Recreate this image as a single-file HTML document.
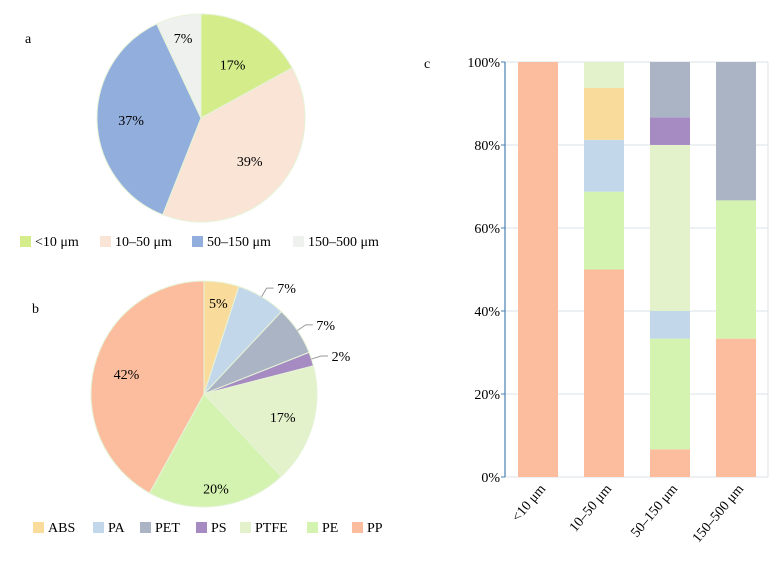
<!DOCTYPE html>
<html><head><meta charset="utf-8"><style>
body{margin:0;background:#fff;}
svg, svg text{font-family:"Liberation Serif","DejaVu Serif","Times New Roman",serif !important;}
</style></head><body>
<svg id="fig" width="782" height="558" viewBox="0 0 782 558" xmlns="http://www.w3.org/2000/svg" font-family="Liberation Serif, DejaVu Serif, serif">
<text x="25" y="43" font-size="14">a</text>
<text x="32" y="313" font-size="14">b</text>
<text x="424" y="68" font-size="14">c</text>
<g id="pieA"></g>
<g id="pieB"></g>
<g id="barC"></g>
<g id="legA"></g>
<g id="legB"></g>
</svg>
<script>
const sizeCats = ["<10 μm","10–50 μm","50–150 μm","150–500 μm"];
const sizeValues = [17,39,37,7];
const sizeColors = ["#d4ec8a","#f9e4d6","#92aedc","#eff1ee"];
const polyCats = ["ABS","PA","PET","PS","PTFE","PE","PP"];
const polyValues = [5,7,7,2,17,20,42];
const polyColors = ["#f9dc9c","#c3d7ea","#aab4c4","#a58bc2","#e3f2cb","#d4f2b0","#fbbd9e"];
// stacked bar: share per polymer (bottom-up order) per size class
const stackOrder = ["PP","PE","PA","ABS","PTFE","PS","PET"];
const sPP   = [100,50,6.67,33.33];
const sPE   = [0,18.75,26.67,33.33];
const sPA   = [0,12.5,6.67,0];
const sABS  = [0,12.5,0,0];
const sPTFE = [0,6.25,40,0];
const sPS   = [0,0,6.67,0];
const sPET  = [0,0,13.33,33.34];
const yTicks = ["0%","20%","40%","60%","80%","100%"];

const NS="http://www.w3.org/2000/svg";
const FF="Liberation Serif, DejaVu Serif, serif";
function mk(tag,attrs,parent){const e=document.createElementNS(NS,tag);for(const k in attrs)e.setAttribute(k,attrs[k]);if(tag==="text")e.setAttribute("font-family",FF);parent.appendChild(e);return e;}

function pie(g,vals,cols,cx,cy,r,names,labelFn){
  const tot=vals.reduce((a,b)=>a+b,0);let a0=0;
  vals.forEach((v,i)=>{
    const a1=a0+v/tot*2*Math.PI;
    const p=(a)=>[cx+r*Math.sin(a),cy-r*Math.cos(a)];
    const [x0,y0]=p(a0),[x1,y1]=p(a1);
    const path=mk("path",{d:`M${cx},${cy}L${x0},${y0}A${r},${r} 0 ${a1-a0>Math.PI?1:0} 1 ${x1},${y1}Z`,fill:cols[i],stroke:"#e6f3d8","stroke-width":"1"},g);
    
    
    labelFn(g,i,v,(a0+a1)/2);
    a0=a1;
  });
}
// pie a
const gA=document.getElementById("pieA");
pie(gA,sizeValues,sizeColors,201,118,104,["lt10","10-50","50-150","150-500"],(g,i,v,am)=>{
  const rr=[62,65,70,82][i];
  const t=mk("text",{x:201+rr*Math.sin(am),y:118-rr*Math.cos(am)+5,"font-size":"14","text-anchor":"middle"},g);
  t.textContent=v+"%";
  
  
});
// pie b
const gB=document.getElementById("pieB");
const bcx=204,bcy=394,br=113;
pie(gB,polyValues,polyColors,bcx,bcy,br,polyCats,(g,i,v,am)=>{
  let x,y;
  if(i>=1&&i<=3){
    const sx=bcx+br*Math.sin(am),sy=bcy-br*Math.cos(am);
    const ex=bcx+(br+10)*Math.sin(am),ey=bcy-(br+10)*Math.cos(am);
    const l=mk("polyline",{points:`${sx},${sy} ${ex},${ey} ${ex+7},${ey}`,fill:"none",stroke:"#999","stroke-width":"1"},g);
    
    
    x=ex+20;y=ey+5;
  } else {
    const rr=[92,0,0,0,82,95,80][i];
    x=bcx+rr*Math.sin(am);y=bcy-rr*Math.cos(am)+5;
  }
  const t=mk("text",{x:x,y:y,"font-size":"14","text-anchor":"middle"},g);
  t.textContent=v+"%";
  
  
});
// legends
function legend(g,cats,cols,xs,y){
  cats.forEach((c,i)=>{
    const r=mk("rect",{x:xs[i],y:y-10,width:11,height:11,fill:cols[i]},g);
    
    
    const t=mk("text",{x:xs[i]+15,y:y,"font-size":"14"},g);
    t.textContent=c;
    
    
  });
}
legend(document.getElementById("legA"),sizeCats,sizeColors,[20,100,192,293],246);
legend(document.getElementById("legB"),polyCats,polyColors,[33,93,140,196,240,307,352],532);
// stacked bar c
const gC=document.getElementById("barC");
const x0=505,x1=768,yTop=62,yBot=477,bw=40,step=66,firstX=518;
const yS=v=>yBot-(v/100)*(yBot-yTop);
yTicks.forEach((t,i)=>{
  const v=i*20,y=yS(v);
  const gl=mk("line",{x1:x0,x2:x1,y1:y,y2:y,stroke:"#dde3ea","stroke-width":"1"},gC);
  
  
  mk("line",{x1:x0-4,x2:x0,y1:y,y2:y,stroke:"#4a7fb5","stroke-width":"1"},gC);
  const tx=mk("text",{x:x0-5,y:y+5,"font-size":"14","text-anchor":"end"},gC);
  tx.textContent=t;
  
  
});
mk("line",{x1:x1,x2:x1,y1:yTop,y2:yBot,stroke:"#dde3ea"},gC);
const ax=mk("line",{x1:x0,x2:x0,y1:yTop,y2:yBot,stroke:"#4a7fb5","stroke-width":"1.2"},gC);


const series={PP:sPP,PE:sPE,PA:sPA,ABS:sABS,PTFE:sPTFE,PS:sPS,PET:sPET};
sizeCats.forEach((c,j)=>{
  let cum=0;const bx=firstX+j*step;
  stackOrder.forEach(p=>{
    const v=series[p][j];if(v<=0)return;
    const col=polyColors[polyCats.indexOf(p)];
    const r=mk("rect",{x:bx,y:yS(cum+v),width:bw,height:yS(cum)-yS(cum+v),fill:col},gC);
    
    
    cum+=v;
  });
  const lx=bx+bw/2+8,ly=yBot+12;
  const t=mk("text",{x:lx,y:ly,"font-size":"14","text-anchor":"end",transform:`rotate(-50 ${lx} ${ly})`},gC);
  t.textContent=c;
  
  
});
</script>
</body></html>
